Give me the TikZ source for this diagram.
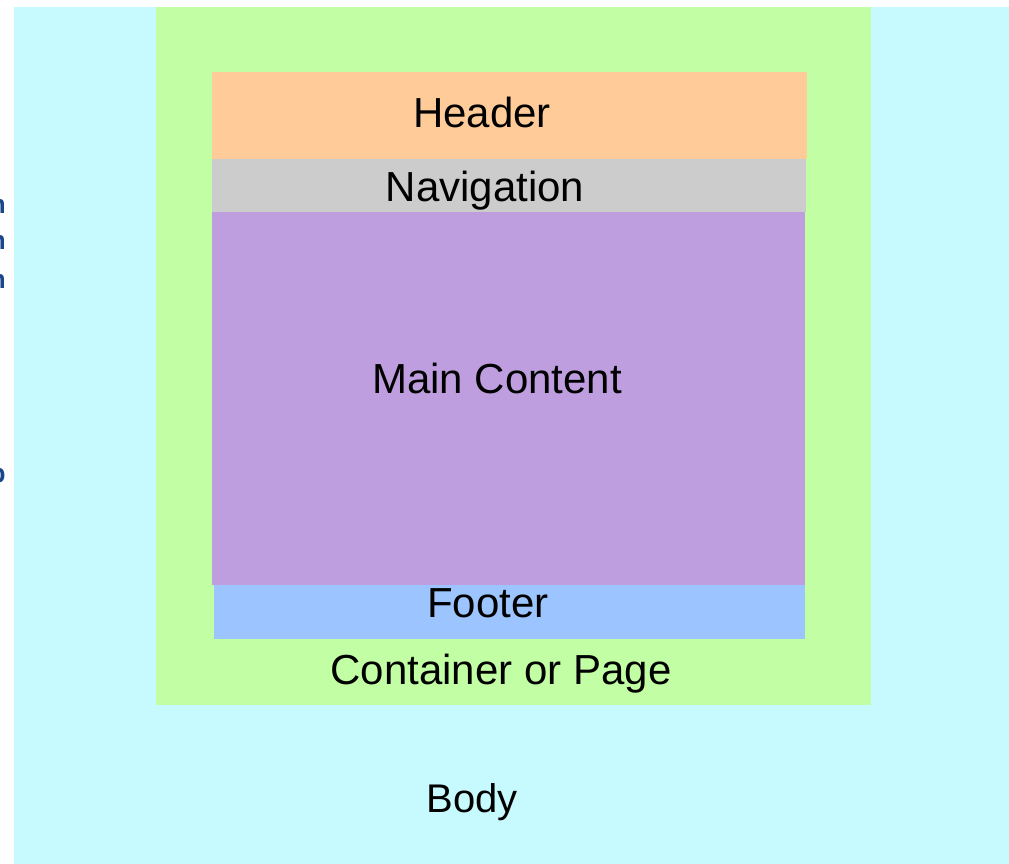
\documentclass[tikz,border=0pt]{standalone}
\usepackage{fontspec}
\setmainfont{Liberation Sans}
\newfontfamily\codefont{Liberation Mono}
\usepackage{xcolor}
\usepackage{tikz}
\usetikzlibrary{positioning}

\definecolor{bodycol}{RGB}{199,250,255}
\definecolor{pagecol}{RGB}{194,255,164}
\definecolor{headcol}{RGB}{255,204,153}
\definecolor{navcol}{RGB}{204,204,204}
\definecolor{maincol}{RGB}{190,158,222}
\definecolor{footcol}{RGB}{156,196,255}
\definecolor{codecol}{RGB}{28,70,140}

\begin{document}
\begin{tikzpicture}[x=1pt, y=-1pt,
  area/.style={inner sep=0pt, outer sep=0pt, anchor=north west},
  lbl/.style={inner sep=0pt, anchor=base, font=\fontsize{42}{50}\selectfont},
  code/.style={inner sep=0pt, anchor=base east, text=codecol, font=\codefont\bfseries\fontsize{26}{30}\selectfont}]
\useasboundingbox (0,0) rectangle (1009,864);

% boxes
\node[area, fill=bodycol, minimum width=995pt, minimum height=857pt] (body) at (14,7) {};
\node[area, fill=pagecol, minimum width=715pt, minimum height=698pt] (page) at (156,7) {};
\node[area, fill=headcol, minimum width=595pt, minimum height=87pt] (header) at (212,72) {};
\node[area, fill=navcol, minimum width=594pt, minimum height=53pt] (nav) at (212,159) {};
\node[area, fill=maincol, minimum width=593pt, minimum height=373pt] (main) at (212,212) {};
\node[area, fill=footcol, minimum width=591pt, minimum height=54pt] (footer) at (214,585) {};

% labels
\node[lbl] (headtxt) at (482,128) {Header};
\node[lbl] (navtxt) at (485,201) {Navigation};
\node[lbl] (maintxt) at (497,393) {Main Content};
\node[lbl] (foottxt) at (488,617) {Footer};
\node[lbl] (pagetxt) at (501,684) {Container or Page};
\node[lbl, font=\fontsize{40}{48}\selectfont] (bodytxt) at (472,812) {Body};

% cut-off code at the left edge
\begin{scope}
\clip (0,0) rectangle (14,864);
\node[code] (codea) at (6,213) {n};
\node[code] (codeb) at (6,249) {n};
\node[code] (codec) at (6,288) {n};
\node[code] (coded) at (6,482) {p};
\end{scope}

\end{tikzpicture}
\end{document}
